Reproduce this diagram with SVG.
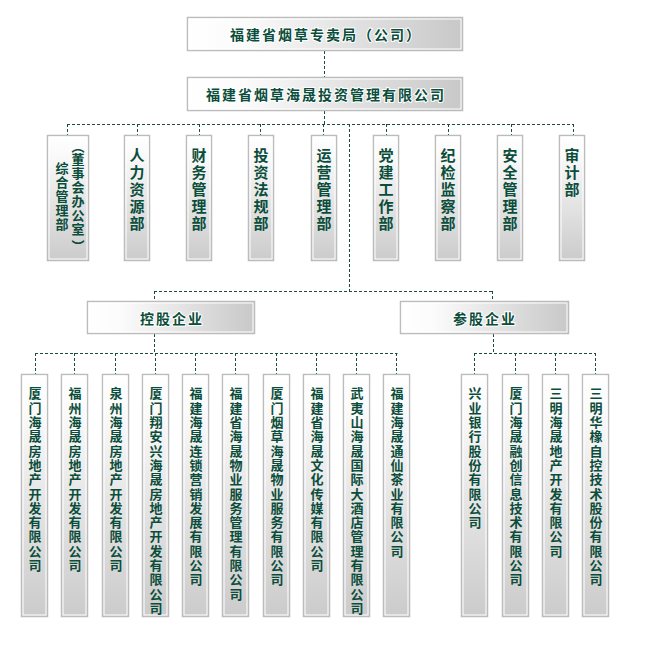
<svg xmlns="http://www.w3.org/2000/svg" width="658" height="646" viewBox="0 0 658 646">
<style>
.box{stroke:#bcbcbc;stroke-width:1.5}
.in{fill:none;stroke:#ffffff;stroke-width:1}
.h{fill:url(#gh)}
.v{fill:url(#gv)}
.t{font-family:"Noto Sans CJK SC",sans-serif;font-weight:bold;fill:#0b4d3b}
.ht{font-size:14px;letter-spacing:2px;text-anchor:middle;dominant-baseline:central;paint-order:stroke;stroke:#ffffff;stroke-width:2px}
.vt{writing-mode:vertical-rl;font-size:15px;letter-spacing:2px}
.bt{writing-mode:vertical-rl;font-size:13px;letter-spacing:1.3px}
.st{writing-mode:vertical-rl;font-size:13px;letter-spacing:1px}
.c{fill:none;stroke:#1b4a40;stroke-width:1;stroke-dasharray:3,2}
</style>
<defs>
<linearGradient id="gh" x1="0" y1="0" x2="1" y2="0"><stop offset="0" stop-color="#ffffff"/><stop offset="0.2" stop-color="#fbfbfb"/><stop offset="1" stop-color="#c8c8c8"/></linearGradient>
<linearGradient id="gv" x1="0" y1="0" x2="0" y2="1"><stop offset="0" stop-color="#ffffff"/><stop offset="0.15" stop-color="#fafafa"/><stop offset="1" stop-color="#cbcbcb"/></linearGradient>
</defs>
<rect width="658" height="646" fill="#ffffff"/>
<g id="connectors">
<path class="c" d="M324.5 51V77M324.5 111V124.5M67 124.5H573.5M67.5 124V135M137.5 124V135M199.5 124V135M260.5 124V135M323.5 124V135M386.5 124V135M448.5 124V135M511.5 124V135M573.5 124V135"/>
<path class="c" d="M349.5 124V291.5M154 291.5H493M154.5 291V301M492.5 291V301"/>
<path class="c" d="M154.5 334V353.5M35 353.5H397.5M35.5 353V374M74.5 353V374M115.5 353V374M155.5 353V374M195.5 353V374M235.5 353V374M276.5 353V374M316.5 353V374M356.5 353V374M396.5 353V374"/>
<path class="c" d="M493.5 334V353.5M474 353.5H595.5M474.5 353V374M515.5 353V374M555.5 353V374M595.5 353V374"/>
</g>
<g id="n-bureau"><rect class="box h" x="187.5" y="17.5" width="275" height="33"/><rect class="in" x="189" y="19" width="272" height="30"/><text class="t ht" x="326" y="34">福建省烟草专卖局（公司）</text></g>
<g id="n-invest"><rect class="box h" x="187.5" y="77.5" width="275" height="33"/><rect class="in" x="189" y="79" width="272" height="30"/><text class="t ht" x="326" y="94">福建省烟草海晟投资管理有限公司</text></g>
<g id="n-zonghe"><rect class="box v" x="47.5" y="135.5" width="41" height="125"/><rect class="in" x="49" y="137" width="38" height="122"/>
<text class="t st" x="62" y="162">综合管理部</text>
<text class="t st" x="78" y="140"><tspan y="140">（</tspan><tspan y="153">董事会办公室</tspan><tspan y="240">）</tspan></text></g>
<g id="n-hr"><rect class="box v" x="124.5" y="135.5" width="25" height="125"/><rect class="in" x="126" y="137" width="22" height="122"/><text class="t vt" x="137" y="148">人力资源部</text></g>
<g id="n-fin"><rect class="box v" x="186.5" y="135.5" width="25" height="125"/><rect class="in" x="188" y="137" width="22" height="122"/><text class="t vt" x="199" y="148">财务管理部</text></g>
<g id="n-law"><rect class="box v" x="248.5" y="135.5" width="25" height="125"/><rect class="in" x="250" y="137" width="22" height="122"/><text class="t vt" x="261" y="148">投资法规部</text></g>
<g id="n-ops"><rect class="box v" x="311.5" y="135.5" width="25" height="125"/><rect class="in" x="313" y="137" width="22" height="122"/><text class="t vt" x="324" y="148">运营管理部</text></g>
<g id="n-party"><rect class="box v" x="373.5" y="135.5" width="25" height="125"/><rect class="in" x="375" y="137" width="22" height="122"/><text class="t vt" x="386" y="148">党建工作部</text></g>
<g id="n-disc"><rect class="box v" x="435.5" y="135.5" width="25" height="125"/><rect class="in" x="437" y="137" width="22" height="122"/><text class="t vt" x="448" y="148">纪检监察部</text></g>
<g id="n-safe"><rect class="box v" x="497.5" y="135.5" width="25" height="125"/><rect class="in" x="499" y="137" width="22" height="122"/><text class="t vt" x="510" y="148">安全管理部</text></g>
<g id="n-audit"><rect class="box v" x="559.5" y="135.5" width="25" height="125"/><rect class="in" x="561" y="137" width="22" height="122"/><text class="t vt" x="572" y="148">审计部</text></g>
<g id="n-holding"><rect class="box h" x="87.5" y="301.5" width="167" height="32"/><rect class="in" x="89" y="303" width="164" height="29"/><text class="t ht" x="172" y="318">控股企业</text></g>
<g id="n-share"><rect class="box h" x="400.5" y="301.5" width="168" height="32"/><rect class="in" x="402" y="303" width="165" height="29"/><text class="t ht" x="485" y="318">参股企业</text></g>
<g id="c1"><rect class="box v" x="21.5" y="374.5" width="26" height="242"/><rect class="in" x="23" y="376" width="23" height="239"/><text class="t bt" x="35" y="387">厦门海晟房地产开发有限公司</text></g>
<g id="c2"><rect class="box v" x="61.5" y="374.5" width="26" height="242"/><rect class="in" x="63" y="376" width="23" height="239"/><text class="t bt" x="75" y="387">福州海晟房地产开发有限公司</text></g>
<g id="c3"><rect class="box v" x="102.5" y="374.5" width="26" height="242"/><rect class="in" x="104" y="376" width="23" height="239"/><text class="t bt" x="116" y="387">泉州海晟房地产开发有限公司</text></g>
<g id="c4"><rect class="box v" x="142.5" y="374.5" width="26" height="242"/><rect class="in" x="144" y="376" width="23" height="239"/><text class="t bt" x="156" y="387">厦门翔安兴海晟房地产开发有限公司</text></g>
<g id="c5"><rect class="box v" x="182.5" y="374.5" width="26" height="242"/><rect class="in" x="184" y="376" width="23" height="239"/><text class="t bt" x="196" y="387">福建海晟连锁营销发展有限公司</text></g>
<g id="c6"><rect class="box v" x="222.5" y="374.5" width="26" height="242"/><rect class="in" x="224" y="376" width="23" height="239"/><text class="t bt" x="236" y="387">福建省海晟物业服务管理有限公司</text></g>
<g id="c7"><rect class="box v" x="263.5" y="374.5" width="26" height="242"/><rect class="in" x="265" y="376" width="23" height="239"/><text class="t bt" x="277" y="387">厦门烟草海晟物业服务有限公司</text></g>
<g id="c8"><rect class="box v" x="303.5" y="374.5" width="26" height="242"/><rect class="in" x="305" y="376" width="23" height="239"/><text class="t bt" x="317" y="387">福建省海晟文化传媒有限公司</text></g>
<g id="c9"><rect class="box v" x="343.5" y="374.5" width="26" height="242"/><rect class="in" x="345" y="376" width="23" height="239"/><text class="t bt" x="357" y="387">武夷山海晟国际大酒店管理有限公司</text></g>
<g id="c10"><rect class="box v" x="383.5" y="374.5" width="26" height="242"/><rect class="in" x="385" y="376" width="23" height="239"/><text class="t bt" x="397" y="387">福建海晟通仙茶业有限公司</text></g>
<g id="s1"><rect class="box v" x="461.5" y="374.5" width="26" height="242"/><rect class="in" x="463" y="376" width="23" height="239"/><text class="t bt" x="475" y="387">兴业银行股份有限公司</text></g>
<g id="s2"><rect class="box v" x="502.5" y="374.5" width="26" height="242"/><rect class="in" x="504" y="376" width="23" height="239"/><text class="t bt" x="516" y="387">厦门海晟融创信息技术有限公司</text></g>
<g id="s3"><rect class="box v" x="542.5" y="374.5" width="26" height="242"/><rect class="in" x="544" y="376" width="23" height="239"/><text class="t bt" x="556" y="387">三明海晟地产开发有限公司</text></g>
<g id="s4"><rect class="box v" x="582.5" y="374.5" width="26" height="242"/><rect class="in" x="584" y="376" width="23" height="239"/><text class="t bt" x="596" y="387">三明华橡自控技术股份有限公司</text></g>
</svg>
